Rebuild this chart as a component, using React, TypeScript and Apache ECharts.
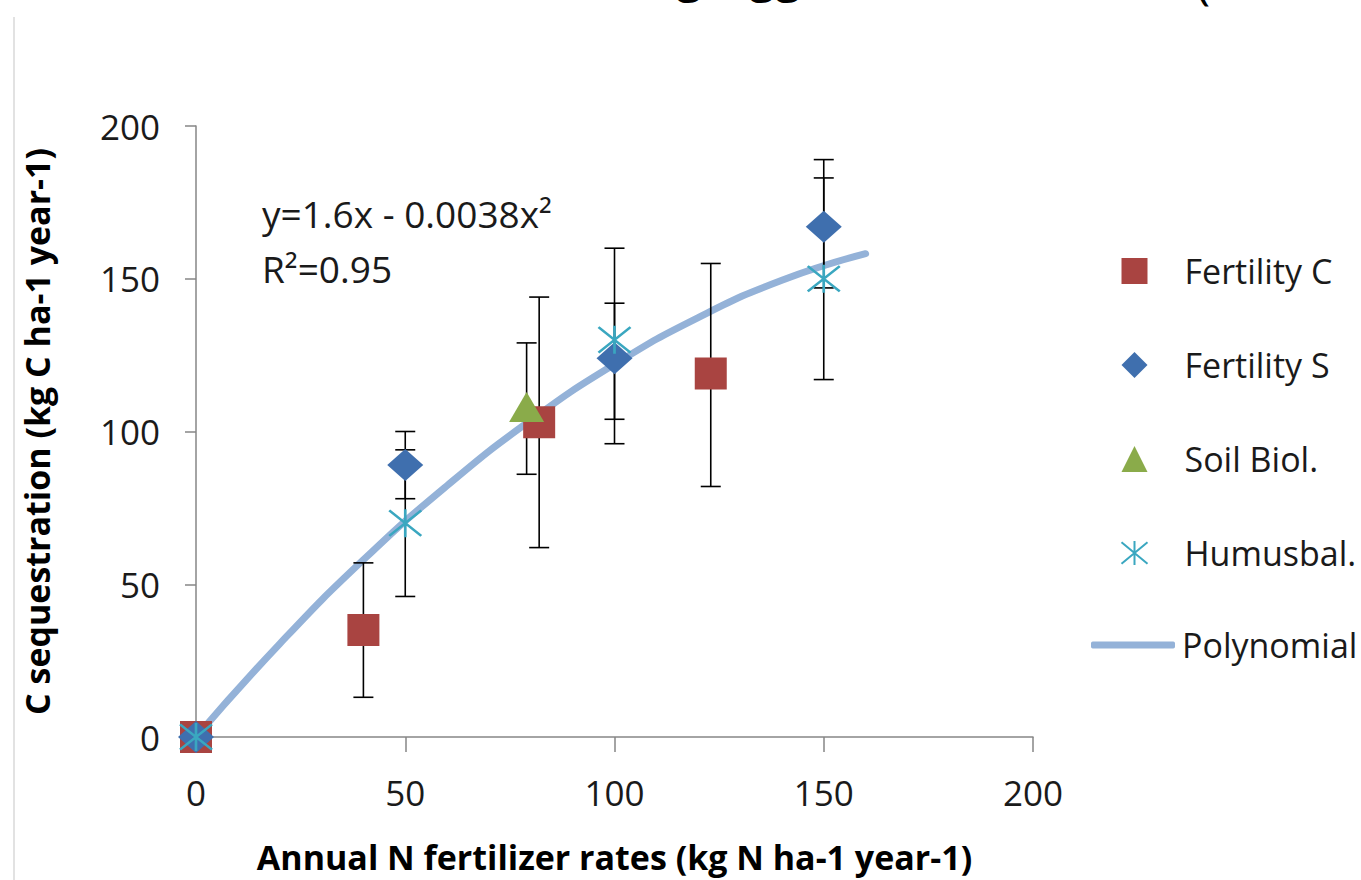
import React, { useEffect, useRef } from "react";
import * as echarts from "echarts";

// ---- data ----
const fertilityC: number[][] = [[0, 0], [40, 35], [82, 103], [123, 119]];
const fertilityS: number[][] = [[0, 0], [50, 89], [100, 124], [150, 167]];
const soilBiol: number[][] = [[79, 108]];
const humusbal: number[][] = [[0, 0], [50, 70], [100, 130], [150, 150]];

// [x, low, high]
const errC: number[][] = [[40, 13, 57], [82, 62, 144], [123, 82, 155]];
const errS: number[][] = [[50, 78, 100], [100, 104, 142], [150, 147, 189]];
const errSoil: number[][] = [[79, 86, 129]];
const errHumus: number[][] = [[50, 46, 94], [100, 96, 160], [150, 117, 183]];

// trend curve
const polyX: number[] = [0, 20, 40, 60, 80, 100, 120, 140, 160];
const polyY: number[] = [0, 30.5, 58, 82.3, 103.7, 122, 137.3, 149.5, 158.2];

const xTicks = { min: 0, max: 200, interval: 50 };
const yTicks = { min: 0, max: 200, interval: 50 };

const names = ["Fertility C", "Fertility S", "Soil Biol.", "Humusbal.", "Polynomial"];
const equation = "y=1.6x - 0.0038x\u00B2";
const rSquared = "R\u00B2=0.95";
const xTitle = "Annual N fertilizer rates (kg N ha-1 year-1)";
const yTitle = "C sequestration (kg C ha-1 year-1)";

const RED = "#a94441";
const BLUE = "#3f6fae";
const GREEN = "#8aab4a";
const TEAL = "#3aa7c0";
const LINE = "#94b2d8";
const AXIS = "#868686";

const FONT = "'Open Sans', sans-serif";

const ASTERISK = "path://M0,0L12,10M12,0L0,10M6,-0.5L6,10.5";

export default function App() {
  const ref = useRef<HTMLDivElement>(null);

  useEffect(() => {
    if (!ref.current) return;
    const chart = echarts.init(ref.current, undefined, { renderer: "svg" });

    const errSeries = (data: number[][], z: number) => ({
      type: "custom",
      z,
      silent: true,
      data,
      encode: { x: 0, y: [1, 2] },
      renderItem: (params: any, api: any) => {
        const x = api.value(0);
        const lo = api.coord([x, api.value(1)]);
        const hi = api.coord([x, api.value(2)]);
        const w = 10;
        const style = { stroke: "#000", lineWidth: 1.6, fill: "none" };
        return {
          type: "group",
          children: [
            { type: "line", shape: { x1: lo[0], y1: lo[1], x2: hi[0], y2: hi[1] }, style },
            { type: "line", shape: { x1: lo[0] - w, y1: lo[1], x2: lo[0] + w, y2: lo[1] }, style },
            { type: "line", shape: { x1: hi[0] - w, y1: hi[1], x2: hi[0] + w, y2: hi[1] }, style },
          ],
        };
      },
    });

    const legendText = { fontFamily: FONT, fontSize: 34, color: "#1a1a1a", lineHeight: 34 };

    chart.setOption({
      animation: false,
      backgroundColor: "#ffffff",
      grid: { left: 196, right: 328, top: 126, bottom: 143, containLabel: false },
      xAxis: {
        type: "value",
        min: xTicks.min,
        max: xTicks.max,
        interval: xTicks.interval,
        name: xTitle,
        nameLocation: "middle",
        nameGap: 103,
        nameTextStyle: { fontFamily: FONT, fontWeight: "bold", fontSize: 34, color: "#000" },
        splitLine: { show: false },
        axisLine: { show: true, lineStyle: { color: AXIS, width: 1.5 } },
        axisTick: { show: true, inside: false, length: 15, lineStyle: { color: AXIS, width: 1.5 } },
        axisLabel: { margin: 38, fontFamily: FONT, fontSize: 35, color: "#1a1a1a" },
      },
      yAxis: {
        type: "value",
        min: yTicks.min,
        max: yTicks.max,
        interval: yTicks.interval,
        name: yTitle,
        nameLocation: "middle",
        nameGap: 142,
        nameRotate: 90,
        nameTextStyle: { fontFamily: FONT, fontWeight: "bold", fontSize: 34, color: "#000" },
        splitLine: { show: false },
        axisLine: { show: true, lineStyle: { color: AXIS, width: 1.5 } },
        axisTick: { show: true, inside: false, length: 11, lineStyle: { color: AXIS, width: 1.5 } },
        axisLabel: { margin: 36, fontFamily: FONT, fontSize: 35, color: "#1a1a1a" },
      },
      legend: [
        {
          data: names.slice(0, 4),
          orient: "vertical",
          left: 1114,
          top: 249,
          itemWidth: 26,
          itemHeight: 26,
          itemGap: 60,
          textStyle: { ...legendText, padding: [0, 0, 0, 32] },
        },
        {
          data: [{ name: names[4], icon: "roundRect" }],
          orient: "vertical",
          left: 1086,
          top: 623,
          itemWidth: 84,
          itemHeight: 7,
          textStyle: { ...legendText, padding: [0, 0, 0, 2] },
        },
      ],
      graphic: [
        { type: "line", shape: { x1: 14, y1: 17, x2: 14, y2: 880 }, style: { stroke: "#d9d9d9", lineWidth: 1.5 } },
        { type: "text", x: 676, y: -3, style: { text: "g", fontFamily: FONT, fontSize: 48, fill: "#000", verticalAlign: "bottom" } },
        { type: "text", x: 749, y: -3, style: { text: "gg", fontFamily: FONT, fontSize: 48, fill: "#000", verticalAlign: "bottom" } },
        { type: "text", x: 1196, y: 4, style: { text: "(", fontFamily: FONT, fontSize: 48, fill: "#000", verticalAlign: "bottom" } },
        { type: "text", x: 262, y: 213, style: { text: equation, fontFamily: FONT, fontSize: 37, fill: "#1a1a1a", verticalAlign: "middle" } },
        { type: "text", x: 262, y: 268, style: { text: rSquared, fontFamily: FONT, fontSize: 37, fill: "#1a1a1a", verticalAlign: "middle" } },
      ],
      series: [
        {
          name: names[4],
          type: "line",
          z: 2,
          smooth: true,
          symbol: "none",
          data: polyX.map((x, i) => [x, polyY[i]]),
          lineStyle: { color: LINE, width: 7, cap: "round" },
          itemStyle: { color: LINE },
        },
        errSeries(errC, 3),
        errSeries(errS, 3),
        errSeries(errSoil, 3),
        errSeries(errHumus, 3),
        {
          name: names[0],
          type: "scatter",
          z: 4,
          symbol: "rect",
          symbolSize: 32,
          data: fertilityC,
          itemStyle: { color: RED, opacity: 1 },
        },
        {
          name: names[1],
          type: "scatter",
          z: 5,
          symbol: "diamond",
          symbolSize: [36, 32],
          data: fertilityS,
          itemStyle: { color: BLUE, opacity: 1 },
        },
        {
          name: names[2],
          type: "scatter",
          z: 5,
          symbol: "triangle",
          symbolSize: [35, 30],
          data: soilBiol,
          itemStyle: { color: GREEN, opacity: 1 },
        },
        {
          name: names[3],
          type: "scatter",
          z: 6,
          symbol: ASTERISK,
          symbolSize: [32, 28],
          data: humusbal,
          itemStyle: { color: "none", borderColor: TEAL, borderWidth: 2.5, opacity: 1 },
        },
      ],
    });

    return () => chart.dispose();
  }, []);

  return (
    <div
      ref={ref}
      style={{ position: "absolute", left: 0, top: 0, width: 1361, height: 880, background: "#fff" }}
    />
  );
}
